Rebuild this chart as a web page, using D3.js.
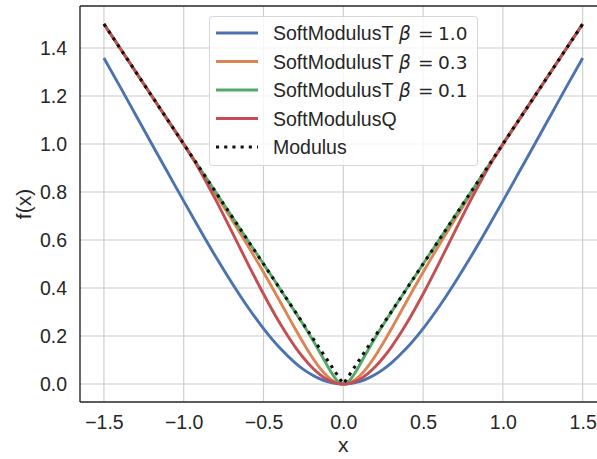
<!DOCTYPE html>
<html>
<head>
<meta charset="utf-8">
<script src="https://cdn.jsdelivr.net/npm/d3@7"></script>
<style>
  body { margin: 0; background: #fff; }
  svg { display: block; font-family: "Liberation Sans", Arial, sans-serif; }
</style>
</head>
<body>
<div id="chart"></div>
<script>
// sample points along x (the curves are even functions, sampled denser near 0)
const xs = [-1.5, -1.4, -1.3, -1.2, -1.1, -1.0, -0.9, -0.8, -0.7, -0.6, -0.5, -0.4, -0.3, -0.25, -0.2, -0.15, -0.1, -0.075, -0.05, -0.025,
            0,
            0.025, 0.05, 0.075, 0.1, 0.15, 0.2, 0.25, 0.3, 0.4, 0.5, 0.6, 0.7, 0.8, 0.9, 1.0, 1.1, 1.2, 1.3, 1.4, 1.5];

const softT10 = [1.358, 1.240, 1.120, 1.000, 0.881, 0.762, 0.645, 0.531, 0.423, 0.322, 0.231, 0.152, 0.0874, 0.0612, 0.0395, 0.0223, 0.00997, 0.0056, 0.0025, 0.000625,
                 0,
                 0.000625, 0.0025, 0.0056, 0.00997, 0.0223, 0.0395, 0.0612, 0.0874, 0.152, 0.231, 0.322, 0.423, 0.531, 0.645, 0.762, 0.881, 1.000, 1.120, 1.240, 1.358];

const softT03 = [1.4999, 1.3998, 1.2996, 1.1992, 1.0986, 0.9975, 0.8955, 0.7923, 0.687, 0.5784, 0.4655, 0.348, 0.2285, 0.1706, 0.1166, 0.0693, 0.0322, 0.0184, 0.00826, 0.00208,
                 0,
                 0.00208, 0.00826, 0.0184, 0.0322, 0.0693, 0.1166, 0.1706, 0.2285, 0.348, 0.4655, 0.5784, 0.687, 0.7923, 0.8955, 0.9975, 1.0986, 1.1992, 1.2996, 1.3998, 1.4999];

const softT01 = [1.5, 1.4, 1.3, 1.2, 1.1, 1.0, 0.9, 0.8, 0.7, 0.6, 0.5, 0.3997, 0.2985, 0.2467, 0.1928, 0.1358, 0.0762, 0.0476, 0.0231, 0.00612,
                 0,
                 0.00612, 0.0231, 0.0476, 0.0762, 0.1358, 0.1928, 0.2467, 0.2985, 0.3997, 0.5, 0.6, 0.7, 0.8, 0.9, 1.0, 1.1, 1.2, 1.3, 1.4, 1.5];

const softQ = [1.5, 1.4, 1.3, 1.2, 1.1, 1.0, 0.891, 0.768, 0.637, 0.504, 0.375, 0.256, 0.153, 0.1094, 0.072, 0.0416, 0.019, 0.01083, 0.00488, 0.00123,
               0,
               0.00123, 0.00488, 0.01083, 0.019, 0.0416, 0.072, 0.1094, 0.153, 0.256, 0.375, 0.504, 0.637, 0.768, 0.891, 1.0, 1.1, 1.2, 1.3, 1.4, 1.5];

const modX = [-1.5, 0, 1.5];
const modY = [1.5, 0, 1.5];

const xTicks = [-1.5, -1.0, -0.5, 0.0, 0.5, 1.0, 1.5];
const yTicks = [0.0, 0.2, 0.4, 0.6, 0.8, 1.0, 1.2, 1.4];

const width = 597, height = 459;
const plot = {left: 80, top: 6, right: 606.6, bottom: 402};
const LW = 2.9;
const DOTS = "3.1,5.1";

let svg = d3.select("#chart").append("svg")
    .attr("width", width)
    .attr("height", height);

let x = d3.scaleLinear().domain([-1.65, 1.65]).range([plot.left, plot.right]);
let y = d3.scaleLinear().domain([-0.075, 1.575]).range([plot.bottom, plot.top]);

// clip to the axes area
svg.append("clipPath").attr("id", "clip")
    .append("rect")
    .attr("x", plot.left).attr("y", plot.top)
    .attr("width", plot.right - plot.left).attr("height", plot.bottom - plot.top);

// grid
let grid = svg.append("g").attr("clip-path", "url(#clip)");
grid.selectAll(".gx").data(xTicks).enter().append("line")
    .attr("x1", d => x(d)).attr("x2", d => x(d))
    .attr("y1", plot.top).attr("y2", plot.bottom)
    .attr("stroke", "#cccccc").attr("stroke-width", 1.1);
grid.selectAll(".gy").data(yTicks).enter().append("line")
    .attr("x1", plot.left).attr("x2", plot.right)
    .attr("y1", d => y(d)).attr("y2", d => y(d))
    .attr("stroke", "#cccccc").attr("stroke-width", 1.1);

// axes (labels only, seaborn whitegrid has no tick marks)
let xAxis = svg.append("g")
    .attr("transform", `translate(0, ${plot.bottom})`)
    .call(d3.axisBottom(x).tickValues(xTicks).tickSize(0).tickPadding(13)
        .tickFormat(d => d3.format(".1f")(d).replace("-", "\u2212")));
let yAxis = svg.append("g")
    .attr("transform", `translate(${plot.left}, 0)`)
    .call(d3.axisLeft(y).tickValues(yTicks).tickSize(0).tickPadding(13)
        .tickFormat(d3.format(".1f")));
[xAxis, yAxis].forEach(a => {
    a.select(".domain").remove();
    a.selectAll("text").attr("fill", "#262626")
        .style("font-size", "19.5px")
        .style("font-family", "'Liberation Sans', Arial, sans-serif");
});

// curves
const series = [
    {ys: softT10, color: "#4C72B0"},
    {ys: softT03, color: "#DD8452"},
    {ys: softT01, color: "#55A868"},
    {ys: softQ, color: "#C44E52"}
];

let line = d3.line()
    .x(d => x(d[0]))
    .y(d => y(d[1]))
    .curve(d3.curveMonotoneX);

let curves = svg.append("g").attr("clip-path", "url(#clip)");
series.forEach(s => {
    curves.append("path")
        .datum(xs.map((v, i) => [v, s.ys[i]]))
        .attr("d", line)
        .attr("fill", "none")
        .attr("stroke", s.color)
        .attr("stroke-width", LW);
});
curves.append("path")
    .datum(modX.map((v, i) => [v, modY[i]]))
    .attr("d", d3.line().x(d => x(d[0])).y(d => y(d[1])))
    .attr("fill", "none")
    .attr("stroke", "#111")
    .attr("stroke-width", LW + 0.2)
    .attr("stroke-dasharray", DOTS);

// spines
svg.append("line").attr("x1", plot.left).attr("x2", plot.left)
    .attr("y1", plot.top).attr("y2", plot.bottom)
    .attr("stroke", "#262626").attr("stroke-width", 1.4);
svg.append("line").attr("x1", plot.left).attr("x2", plot.right)
    .attr("y1", plot.bottom).attr("y2", plot.bottom)
    .attr("stroke", "#262626").attr("stroke-width", 1.4);
svg.append("line").attr("x1", plot.left).attr("x2", plot.right)
    .attr("y1", plot.top).attr("y2", plot.top)
    .attr("stroke", "#262626").attr("stroke-width", 1.4);

// axis labels
svg.append("text")
    .attr("x", x(0)).attr("y", 452)
    .attr("text-anchor", "middle")
    .attr("fill", "#262626")
    .style("font-size", "21px")
    .text("x");
svg.append("text")
    .attr("transform", `translate(31, ${(plot.top + plot.bottom) / 2}) rotate(-90)`)
    .attr("text-anchor", "middle")
    .attr("fill", "#262626")
    .style("font-size", "21px")
    .text("f(x)");

// legend
const legendNames = ["SoftModulusT", "SoftModulusT", "SoftModulusT", "SoftModulusQ", "Modulus"];
const legendBetas = ["1.0", "0.3", "0.1", null, null];
const legendColors = ["#4C72B0", "#DD8452", "#55A868", "#C44E52", "#111"];

let legend = svg.append("g");
legend.append("rect")
    .attr("x", 209.5).attr("y", 16.5)
    .attr("width", 268).attr("height", 149)
    .attr("rx", 3)
    .attr("fill", "white").attr("fill-opacity", 0.8)
    .attr("stroke", "#d6d6d6").attr("stroke-width", 1);

legendNames.forEach((n, i) => {
    let cy = 33 + i * 28.5;
    let l = legend.append("line")
        .attr("x1", 216).attr("x2", 258)
        .attr("y1", cy).attr("y2", cy)
        .attr("stroke", legendColors[i])
        .attr("stroke-width", i === 4 ? LW + 0.2 : LW);
    if (i === 4) l.attr("stroke-dasharray", DOTS);
    let g = legend.append("g").attr("fill", "#262626").style("font-size", "19.5px");
    g.append("text").attr("x", 273).attr("y", cy + 7).text(n);
    if (legendBetas[i]) {
        // math part of the label, set like matplotlib mathtext
        let m = g.append("g")
            .style("font-family", "'DejaVu Sans', sans-serif")
            .style("font-size", "18.5px");
        m.append("text").attr("x", 399).attr("y", cy + 7)
            .style("font-style", "italic").text("\u03b2");
        m.append("text").attr("x", 418).attr("y", cy + 7).text("=");
        m.append("text").attr("x", 438).attr("y", cy + 7).text(legendBetas[i]);
    }
});
</script>
</body>
</html>
